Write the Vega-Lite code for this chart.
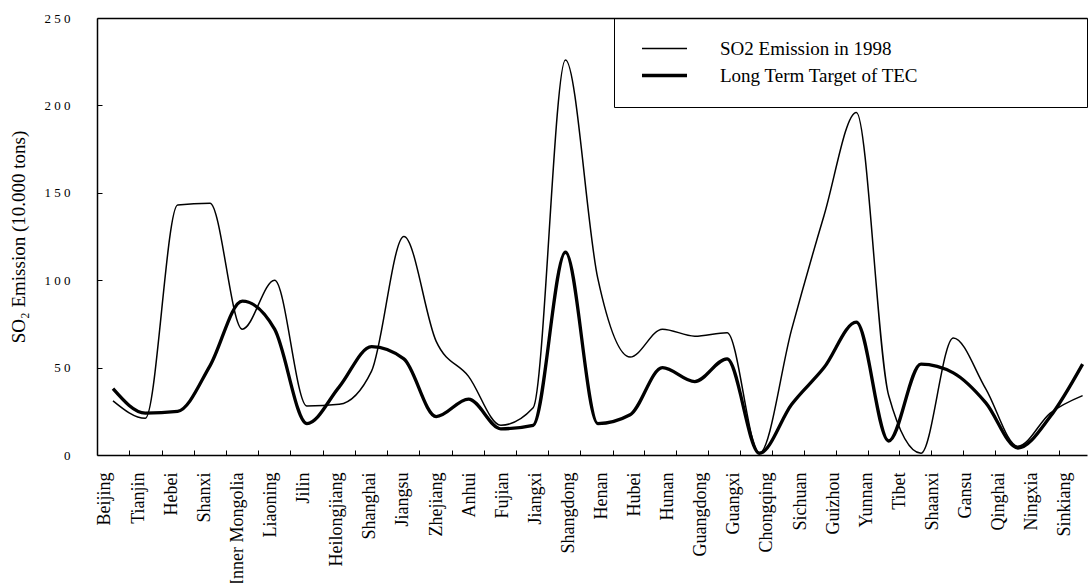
{
  "$schema": "https://vega.github.io/schema/vega-lite/v6.json",
  "width": 990,
  "height": 437,
  "autosize": "none",
  "padding": {"left": 97, "top": 18, "right": 2, "bottom": 128},
  "background": "white",
  "config": {
    "view": {"stroke": null},
    "font": "Liberation Serif",
    "axis": {"labelFont": "Liberation Serif", "titleFont": "Liberation Serif", "labelColor": "black", "titleColor": "black"},
    "legend": {
      "orient": "none", "legendX": 517, "legendY": 0, "direction": "vertical",
      "strokeColor": "black", "padding": 21,
      "symbolSize": 225, "symbolStrokeColor": "black", "symbolOffset": 5,
      "labelFont": "Liberation Serif", "labelFontSize": 19, "labelColor": "black",
      "labelOffset": 61, "labelLimit": 1000, "rowPadding": 7
    }
  },
  "data": {
    "values": [
      {"i": 0, "province": "Beijing", "so2": 31, "target": 38},
      {"i": 1, "province": "Tianjin", "so2": 21, "target": 24},
      {"i": 2, "province": "Hebei", "so2": 143, "target": 25},
      {"i": 3, "province": "Shanxi", "so2": 144, "target": 51},
      {"i": 4, "province": "Inner Mongolia", "so2": 72, "target": 88},
      {"i": 5, "province": "Liaoning", "so2": 100, "target": 72},
      {"i": 6, "province": "Jilin", "so2": 28, "target": 18},
      {"i": 7, "province": "Heilongjiang", "so2": 29, "target": 39},
      {"i": 8, "province": "Shanghai", "so2": 48, "target": 62},
      {"i": 9, "province": "Jiangsu", "so2": 125, "target": 55},
      {"i": 10, "province": "Zhejiang", "so2": 65, "target": 22},
      {"i": 11, "province": "Anhui", "so2": 45, "target": 32},
      {"i": 12, "province": "Fujian", "so2": 17, "target": 15},
      {"i": 13, "province": "Jiangxi", "so2": 27, "target": 17},
      {"i": 14, "province": "Shangdong", "so2": 226, "target": 116},
      {"i": 15, "province": "Henan", "so2": 101, "target": 18},
      {"i": 16, "province": "Hubei", "so2": 56, "target": 23},
      {"i": 17, "province": "Hunan", "so2": 72, "target": 50},
      {"i": 18, "province": "Guangdong", "so2": 68, "target": 42},
      {"i": 19, "province": "Guangxi", "so2": 70, "target": 55},
      {"i": 20, "province": "Hainan", "so2": 1, "target": 1},
      {"i": 21, "province": "Chongqing", "so2": 72, "target": 29},
      {"i": 22, "province": "Sichuan", "so2": 137, "target": 50},
      {"i": 23, "province": "Guizhou", "so2": 196, "target": 76},
      {"i": 24, "province": "Yunnan", "so2": 34, "target": 8},
      {"i": 25, "province": "Tibet", "so2": 1, "target": 52},
      {"i": 26, "province": "Shaanxi", "so2": 67, "target": 47},
      {"i": 27, "province": "Gansu", "so2": 38, "target": 30},
      {"i": 28, "province": "Qinghai", "so2": 5, "target": 4},
      {"i": 29, "province": "Ningxia", "so2": 24, "target": 22},
      {"i": 30, "province": "Sinkiang", "so2": 34, "target": 52}
    ]
  },
  "layer": [
    {
      "mark": {"type": "line", "interpolate": "monotone", "color": "black"},
      "encoding": {
        "x": {
          "field": "i", "type": "quantitative",
          "scale": {"domain": [-0.495, 30.136], "nice": false, "zero": false},
          "axis": {
            "orient": "bottom", "title": null, "labels": false, "grid": false,
            "values": [0.495,1.507,2.497,3.487,4.496,5.486,6.488,7.478,8.478,9.477,10.48,11.479,12.478,13.469,14.458,15.461,16.439,17.429,18.41,19.4,20.39,21.371,22.361,23.351,24.329,25.319,26.309,27.29,28.28,29.27],
            "ticks": true, "tickSize": -5, "tickColor": "black", "tickWidth": 1,
            "domain": true, "domainColor": "black", "domainWidth": 1.5
          }
        },
        "y": {
          "field": "so2", "type": "quantitative",
          "scale": {"domain": [0, 250], "nice": false, "zero": true},
          "axis": {
            "title": "SO₂ Emission (10.000 tons)", "titleFontSize": 19, "titleFontWeight": "normal", "titlePadding": 16,
            "values": [0, 50, 100, 150, 200, 250],
            "labelExpr": "join(split(datum.label, ''), ' ')",
            "labelFontSize": 13, "labelPadding": 32,
            "tickSize": -5, "tickColor": "black", "tickWidth": 1,
            "domainColor": "black", "domainWidth": 1.5,
            "grid": true, "gridColor": "black", "gridWidth": 1.5,
            "gridOpacity": {"condition": {"test": "datum.value === 250", "value": 1}, "value": 0}
          }
        },
        "strokeWidth": {
          "datum": "SO2 Emission in 1998", "type": "nominal",
          "scale": {"domain": ["SO2 Emission in 1998", "Long Term Target of TEC"], "range": [1.5, 3.3]},
          "legend": {
            "title": null, "symbolType": "M-1,0H5",
            "labelExpr": "datum.label + '\u00a0\u00a0\u00a0\u00a0\u00a0\u00a0\u00a0\u00a0\u00a0\u00a0\u00a0\u00a0\u00a0\u00a0\u00a0\u00a0\u00a0\u00a0\u00a0\u00a0\u00a0\u00a0\u00a0\u00a0\u00a0\u00a0\u00a0\u00a0\u00a0\u00a0\u00a0\u200b'"
          }
        }
      }
    },
    {
      "mark": {"type": "line", "interpolate": "monotone", "color": "black"},
      "encoding": {
        "x": {
          "field": "i", "type": "quantitative",
          "scale": {"domain": [-0.495, 30.136], "nice": false, "zero": false},
          "axis": {
            "orient": "bottom", "title": null, "grid": false, "ticks": false, "domain": false,
            "values": [-0.248,0.776,1.801,2.825,3.849,4.873,5.897,6.921,7.945,8.969,9.994,11.018,12.042,13.066,14.09,15.114,16.138,17.163,18.187,19.211,20.235,21.259,22.283,23.307,24.332,25.356,26.38,27.404,28.428,29.452],
            "labelExpr": "['Beijing','Tianjin','Hebei','Shanxi','Inner Mongolia','Liaoning','Jilin','Heilongjiang','Shanghai','Jiangsu','Zhejiang','Anhui','Fujian','Jiangxi','Shangdong','Henan','Hubei','Hunan','Guangdong','Guangxi','Chongqing','Sichuan','Guizhou','Yunnan','Tibet','Shaanxi','Gansu','Qinghai','Ningxia','Sinkiang'][round((datum.value + 0.248) / 1.0241)]",
            "labelAngle": 270, "labelFontSize": 18, "labelPadding": 17,
            "labelOverlap": false, "labelFlush": false, "labelBound": false
          }
        },
        "y": {
          "field": "target", "type": "quantitative",
          "scale": {"domain": [0, 250], "nice": false, "zero": true},
          "axis": {
            "title": "SO₂ Emission (10.000 tons)", "titleFontSize": 19, "titleFontWeight": "normal", "titlePadding": 16,
            "values": [0, 50, 100, 150, 200, 250],
            "labelExpr": "join(split(datum.label, ''), ' ')",
            "labelFontSize": 13, "labelPadding": 32,
            "tickSize": -5, "tickColor": "black", "tickWidth": 1,
            "domainColor": "black", "domainWidth": 1.5,
            "grid": true, "gridColor": "black", "gridWidth": 1.5,
            "gridOpacity": {"condition": {"test": "datum.value === 250", "value": 1}, "value": 0}
          }
        },
        "strokeWidth": {
          "datum": "Long Term Target of TEC", "type": "nominal",
          "scale": {"domain": ["SO2 Emission in 1998", "Long Term Target of TEC"], "range": [1.5, 3.3]},
          "legend": {
            "title": null, "symbolType": "M-1,0H5",
            "labelExpr": "datum.label + '\u00a0\u00a0\u00a0\u00a0\u00a0\u00a0\u00a0\u00a0\u00a0\u00a0\u00a0\u00a0\u00a0\u00a0\u00a0\u00a0\u00a0\u00a0\u00a0\u00a0\u00a0\u00a0\u00a0\u00a0\u00a0\u00a0\u00a0\u00a0\u00a0\u00a0\u00a0\u200b'"
          }
        }
      }
    }
  ],
  "resolve": {"axis": {"x": "independent"}}
}
